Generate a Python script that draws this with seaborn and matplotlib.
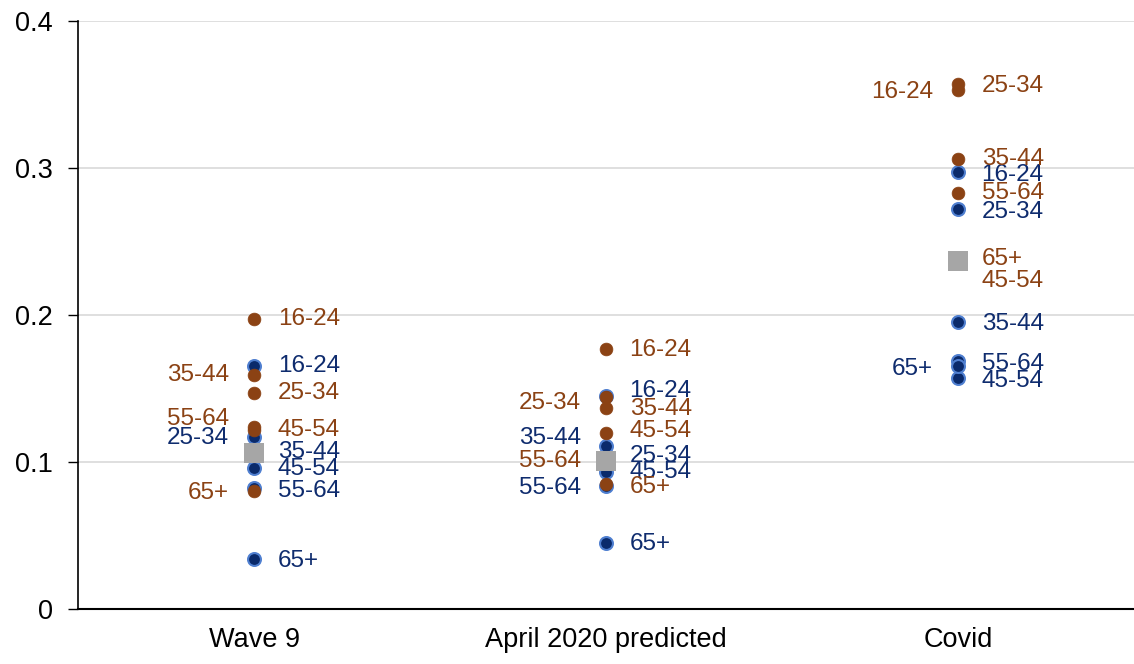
import pandas as pd
import matplotlib.pyplot as plt
import seaborn as sns

# %% data
waves = ["Wave 9", "April 2020 predicted", "Covid"]
ages = ["16-24", "25-34", "35-44", "45-54", "55-64", "65+"]

blue_vals = {
    "Wave 9": [0.165, 0.117, 0.103, 0.096, 0.082, 0.034],
    "April 2020 predicted": [0.145, 0.102, 0.111, 0.093, 0.084, 0.045],
    "Covid": [0.297, 0.272, 0.195, 0.157, 0.169, 0.165],
}
brown_vals = {
    "Wave 9": [0.197, 0.147, 0.159, 0.124, 0.122, 0.080],
    "April 2020 predicted": [0.177, 0.144, 0.137, 0.120, 0.102, 0.085],
    "Covid": [0.357, 0.353, 0.306, 0.236, 0.283, 0.238],
}
mean_vals = [0.106, 0.101, 0.237]

# label placement (layout only): y position of text, side of the marker
blue_lab_y = {
    "Wave 9": [0.165, 0.116, 0.107, 0.095, 0.080, 0.033],
    "April 2020 predicted": [0.148, 0.104, 0.116, 0.093, 0.082, 0.044],
    "Covid": [0.295, 0.270, 0.194, 0.155, 0.167, 0.163],
}
blue_lab_side = {
    "Wave 9": ["R", "L", "R", "R", "R", "R"],
    "April 2020 predicted": ["R", "R", "L", "R", "L", "R"],
    "Covid": ["R", "R", "R", "R", "R", "L"],
}
brown_lab_y = {
    "Wave 9": [0.197, 0.147, 0.159, 0.122, 0.129, 0.079],
    "April 2020 predicted": [0.176, 0.140, 0.136, 0.121, 0.101, 0.083],
    "Covid": [0.352, 0.356, 0.306, 0.223, 0.283, 0.238],
}
brown_lab_side = {
    "Wave 9": ["R", "R", "L", "R", "L", "L"],
    "April 2020 predicted": ["R", "L", "R", "R", "L", "R"],
    "Covid": ["L", "R", "R", "R", "R", "R"],
}

blue_fill = "#0A2A6B"
blue_edge = "#4F7FD0"
blue_text = "#0F2C6E"
brown = "#8B4214"
grey = "#A6A6A6"

# %% tidy frames
def to_long(vals):
    rows = []
    for w in waves:
        for a, v in zip(ages, vals[w]):
            rows.append({"wave": w, "age": a, "value": v})
    return pd.DataFrame(rows)


df_blue = to_long(blue_vals)
df_brown = to_long(brown_vals)
df_mean = pd.DataFrame({"wave": waves, "value": mean_vals})

# %% plot
plt.rcParams["font.family"] = ["Liberation Sans", "DejaVu Sans"]
fig = plt.figure(figsize=(11.34, 6.64), dpi=100)
ax = fig.add_axes([0.0688, 0.0828, 0.9312, 0.8856])

sns.stripplot(data=df_blue, x="wave", y="value", order=waves, jitter=False,
              color=blue_fill, edgecolor=blue_edge, linewidth=1.5, size=9.3,
              ax=ax, zorder=3)
sns.stripplot(data=df_brown, x="wave", y="value", order=waves, jitter=False,
              color=brown, edgecolor=brown, linewidth=0.5, size=9.2,
              ax=ax, zorder=4)
sns.stripplot(data=df_mean, x="wave", y="value", order=waves, jitter=False,
              color=grey, marker="s", linewidth=0, size=14.5, ax=ax, zorder=5)

# point labels
for vals_y, sides, col in [(blue_lab_y, blue_lab_side, blue_text),
                           (brown_lab_y, brown_lab_side, brown)]:
    for i, w in enumerate(waves):
        for a, yy, s in zip(ages, vals_y[w], sides[w]):
            dx = 17 if s == "R" else -18
            ax.annotate(a, (i, yy), xytext=(dx, 0), textcoords="offset points",
                        ha="left" if s == "R" else "right", va="center",
                        fontsize=17.5, color=col, zorder=6)

ax.set_xlim(-0.5, 2.5)
ax.set_ylim(0, 0.4)
ax.set_yticks([0, 0.1, 0.2, 0.3, 0.4])
ax.set_yticklabels(["0", "0.1", "0.2", "0.3", "0.4"])
ax.yaxis.grid(True, color="#D9D9D9", linewidth=1.2)
ax.set_axisbelow(True)
ax.set_xlabel("")
ax.set_ylabel("")
ax.tick_params(axis="y", length=7, width=1, labelsize=19.5, pad=11)
ax.tick_params(axis="x", length=0, labelsize=19.5, pad=13)
sns.despine(ax=ax, top=True, right=True)
ax.spines["left"].set_linewidth(1.2)
ax.spines["bottom"].set_linewidth(1.5)

fig.savefig("out.png", dpi=100)
